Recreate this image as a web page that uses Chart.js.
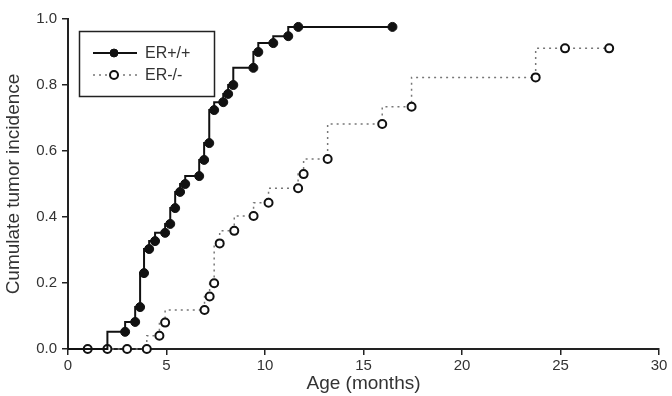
<!DOCTYPE html>
<html>
<head>
<meta charset="utf-8">
<script src="https://cdn.jsdelivr.net/npm/chart.js@4/dist/chart.umd.min.js"></script>
<style>
  html, body { margin: 0; padding: 0; background: #fff; }
  #wrap { width: 672px; height: 396px; }
</style>
</head>
<body>
<div id="wrap"><canvas id="chart" width="672" height="396"></canvas></div>
<script>
// values (age in months, cumulative incidence)
const erPosAge = [0, 2, 2.9, 3.41, 3.66, 3.86, 4.12, 4.42, 4.93, 5.19, 5.44, 5.69, 5.95, 6.66, 6.91, 7.17, 7.42, 7.88, 8.13, 8.39, 9.41, 9.66, 10.42, 11.18, 11.69, 16.47];
const erPosInc = [0, 0, 0.052, 0.082, 0.127, 0.23, 0.303, 0.327, 0.352, 0.379, 0.427, 0.476, 0.5, 0.524, 0.573, 0.624, 0.724, 0.748, 0.773, 0.8, 0.852, 0.9, 0.927, 0.948, 0.976, 0.976];

const erNegAge = [1, 2, 3, 4, 4.64, 4.93, 6.93, 7.19, 7.42, 7.7, 8.44, 9.42, 10.18, 11.68, 11.96, 13.18, 15.95, 17.44, 23.74, 25.23, 27.47];
const erNegInc = [0, 0, 0, 0, 0.04, 0.08, 0.118, 0.159, 0.199, 0.32, 0.358, 0.403, 0.443, 0.487, 0.53, 0.576, 0.682, 0.734, 0.823, 0.911, 0.911];

const xTicks = [0, 5, 10, 15, 20, 25, 30];
const yTicks = [0, 0.2, 0.4, 0.6, 0.8, 1.0];
const seriesNames = ['ER+/+', 'ER-/-'];

const FONT = '"Liberation Sans", Arial, Helvetica, sans-serif';
const INK = '#222';
const TXT = '#333';

function pts(xs, ys) { return xs.map((x, i) => ({ x, y: ys[i] })); }

// little boxed legend in the upper left of the plot
const legendBox = {
  id: 'legendBox',
  afterDraw(chart) {
    const ctx = chart.ctx;
    ctx.save();
    ctx.strokeStyle = INK; ctx.lineWidth = 1.5;
    ctx.strokeRect(79.5, 31.5, 135, 65);
    chart.data.datasets.forEach((ds, i) => {
      const y = 53 + i * 22;
      ctx.setLineDash(ds.borderDash || []);
      ctx.strokeStyle = ds.borderColor; ctx.lineWidth = ds.borderWidth;
      ctx.beginPath(); ctx.moveTo(93, y); ctx.lineTo(137, y); ctx.stroke();
      ctx.setLineDash([]);
      ctx.beginPath(); ctx.arc(114, y, 4, 0, Math.PI * 2);
      ctx.fillStyle = ds.pointBackgroundColor; ctx.fill();
      ctx.strokeStyle = ds.pointBorderColor; ctx.lineWidth = ds.pointBorderWidth; ctx.stroke();
      ctx.fillStyle = TXT;
      ctx.font = '16px ' + FONT;
      ctx.textBaseline = 'middle';
      ctx.fillText(ds.label, 145, y + 1);
    });
    ctx.restore();
  }
};

const axisCommon = {
  type: 'linear',
  grid: { drawOnChartArea: false, drawTicks: true, tickLength: 6, color: INK, lineWidth: 1.5 },
  border: { display: true, color: INK, width: 2 },
};

new Chart(document.getElementById('chart').getContext('2d'), {
  type: 'line',
  data: {
    datasets: [
      {
        label: seriesNames[0],
        data: pts(erPosAge, erPosInc),
        stepped: 'after',
        borderColor: '#111',
        borderWidth: 2,
        pointRadius: (c) => (c.raw && c.raw.y === 0 ? 0 : 4.5),
        pointBackgroundColor: '#111',
        pointBorderColor: '#111',
        pointBorderWidth: 1,
        clip: false,
      },
      {
        label: seriesNames[1],
        data: pts(erNegAge, erNegInc),
        stepped: 'after',
        borderColor: '#777',
        borderWidth: 1.5,
        borderDash: [2, 4],
        pointRadius: 4,
        pointBackgroundColor: '#fff',
        pointBorderColor: '#111',
        pointBorderWidth: 2,
        clip: false,
      },
    ],
  },
  options: {
    responsive: false,
    animation: false,
    devicePixelRatio: 1,
    layout: { padding: { top: 19, right: 13, left: 0, bottom: 0 } },
    plugins: { legend: { display: false }, tooltip: { enabled: false } },
    scales: {
      x: {
        ...axisCommon,
        min: 0, max: 30,
        afterBuildTicks: (s) => { s.ticks = xTicks.map(v => ({ value: v })); },
        afterFit: (s) => { s.height = 47; },
        ticks: { color: TXT, font: { family: FONT, size: 15 }, padding: 2, maxRotation: 0, autoSkip: false },
        title: { display: true, text: 'Age (months)', color: TXT, font: { family: FONT, size: 19 }, padding: { top: 0, bottom: 1 } },
      },
      y: {
        ...axisCommon,
        min: 0, max: 1,
        afterBuildTicks: (s) => { s.ticks = yTicks.map(v => ({ value: v })); },
        afterFit: (s) => { s.width = 68; },
        ticks: { color: TXT, font: { family: FONT, size: 15 }, padding: 5, callback: (v) => Number(v).toFixed(1) },
        title: { display: true, text: 'Cumulate tumor incidence', color: TXT, font: { family: FONT, size: 19 }, padding: { top: 2, bottom: 0 } },
      },
    },
  },
  plugins: [legendBox],
});
</script>
</body>
</html>
